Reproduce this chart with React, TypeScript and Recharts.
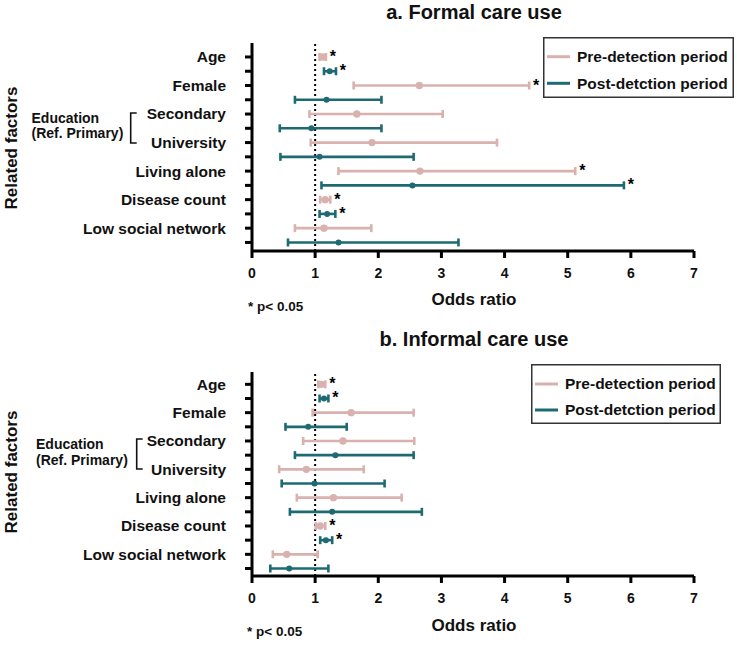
import React from 'react';
import { ComposedChart, Scatter, ErrorBar, XAxis, YAxis, ReferenceLine, Legend } from 'recharts';

const FONT = "'Liberation Sans', Arial, Helvetica, sans-serif";

const factors = ['Age', 'Female', 'Secondary', 'University', 'Living alone', 'Disease count', 'Low social network'];
const rowTicks = [1, 2, 3, 4, 5, 6, 7, 8, 9, 10, 11, 12, 13, 14];
const xTicks = [0, 1, 2, 3, 4, 5, 6, 7];
const seriesNames = ['Pre-detection period', 'Post-detction period'];
const seriesColors = ['#d9b1af', '#1e6a72'];

// a. Formal care use
const formalPreOR = [1.12, 2.65, 1.66, 1.90, 2.66, 1.16, 1.14];
const formalPreLo = [1.07, 1.61, 0.91, 0.93, 1.37, 1.08, 0.68];
const formalPreHi = [1.17, 4.39, 3.02, 3.88, 5.12, 1.24, 1.89];
const formalPreSig = [true, true, false, false, true, true, false];
const formalPostOR = [1.23, 1.18, 0.94, 1.07, 2.54, 1.19, 1.37];
const formalPostLo = [1.14, 0.68, 0.44, 0.45, 1.10, 1.07, 0.57];
const formalPostHi = [1.33, 2.05, 2.05, 2.56, 5.89, 1.32, 3.27];
const formalPostSig = [true, false, false, false, true, true, false];

// b. Informal care use
const informalPreOR = [1.10, 1.57, 1.44, 0.86, 1.29, 1.08, 0.55];
const informalPreLo = [1.05, 0.96, 0.81, 0.43, 0.71, 1.01, 0.33];
const informalPreHi = [1.16, 2.56, 2.57, 1.77, 2.37, 1.16, 1.04];
const informalPreSig = [true, false, false, false, false, true, false];
const informalPostOR = [1.14, 0.89, 1.32, 0.99, 1.27, 1.17, 0.59];
const informalPostLo = [1.07, 0.53, 0.68, 0.47, 0.60, 1.08, 0.29];
const informalPostHi = [1.21, 1.50, 2.56, 2.10, 2.69, 1.27, 1.21];
const informalPostSig = [true, false, false, false, false, true, false];

type Row = { or: number; row: number; err?: [number, number] };

function buildRows(or: number[], lo: number[], hi: number[], offset: number): Row[] {
  return or.map((v, i) => ({ or: v, row: i * 2 + 1 + offset, err: [v - lo[i], hi[i] - v] as [number, number] }));
}
function buildStars(hi: number[], sig: boolean[], offset: number): Row[] {
  const out: Row[] = [];
  hi.forEach((h, i) => {
    if (sig[i]) out.push({ or: h, row: i * 2 + 1 + offset });
  });
  return out;
}

const PreDot = (p: any) => <circle cx={p.cx} cy={p.cy} r={3.7} fill={seriesColors[0]} />;
const PostDot = (p: any) => <circle cx={p.cx} cy={p.cy} r={3} fill={seriesColors[1]} />;
const Star = (p: any) => (
  <text x={p.cx + 7} y={p.cy + 5} textAnchor="middle" fontSize={16} fontWeight={700} fill="#000" fontFamily={FONT}>
    *
  </text>
);

const RowTick = (props: any) => {
  const { x, y, payload } = props;
  const v = payload.value;
  if (v % 2 === 0) return <g />;
  const label = factors[(v - 1) / 2];
  return (
    <text x={x} y={y} dy="0.35em" textAnchor="end" fontSize={15.5} fontWeight={700} fill="#111" fontFamily={FONT}>
      {label}
    </text>
  );
};

const makeLegend = (w: number, h: number, rowYs: number[]) => () => (
  <svg width={w} height={h} style={{ display: 'block' }}>
    <rect x={0.75} y={0.75} width={w - 1.5} height={h - 1.5} fill="#fff" stroke="#333" strokeWidth={1.5} />
    {seriesNames.map((name, i) => (
      <g key={name}>
        <line x1={4} x2={27} y1={rowYs[i]} y2={rowYs[i]} stroke={seriesColors[i]} strokeWidth={3} />
        <text x={34} y={rowYs[i]} dy="0.35em" fontSize={15.5} fontWeight={700} fill="#111" fontFamily={FONT}>
          {name}
        </text>
      </g>
    ))}
  </svg>
);

type PanelProps = {
  pre: Row[];
  post: Row[];
  stars: Row[];
  yDomain: [number, number];
  marginTop: number;
  marginBottom: number;
  legend: { left: number; top: number; w: number; h: number; rows: number[] };
};

function Panel({ pre, post, stars, yDomain, marginTop, marginBottom, legend }: PanelProps) {
  return (
    <ComposedChart width={737} height={323} margin={{ top: marginTop, right: 43, bottom: marginBottom, left: 0 }}>
      <XAxis
        type="number"
        dataKey="or"
        domain={[0, 7]}
        ticks={xTicks}
        interval={0}
        allowDataOverflow
        height={40}
        tickSize={7}
        tickMargin={10}
        axisLine={{ stroke: '#000', strokeWidth: 3 }}
        tickLine={{ stroke: '#000', strokeWidth: 3 }}
        tick={{ fontSize: 14, fontWeight: 700, fill: '#111', fontFamily: FONT }}
      />
      <YAxis
        type="number"
        dataKey="row"
        domain={yDomain}
        reversed
        ticks={rowTicks}
        interval={0}
        allowDataOverflow
        width={252}
        tickSize={7}
        tickMargin={19}
        axisLine={{ stroke: '#000', strokeWidth: 3 }}
        tickLine={{ stroke: '#000', strokeWidth: 3 }}
        tick={<RowTick />}
      />
      <ReferenceLine x={1} stroke="#000" strokeWidth={2} strokeDasharray="2 3" />
      <Scatter data={pre} name={seriesNames[0]} fill={seriesColors[0]} shape={PreDot} isAnimationActive={false}>
        <ErrorBar dataKey="err" direction="x" width={4} stroke={seriesColors[0]} strokeWidth={2.6} isAnimationActive={false} />
      </Scatter>
      <Scatter data={post} name={seriesNames[1]} fill={seriesColors[1]} shape={PostDot} isAnimationActive={false}>
        <ErrorBar dataKey="err" direction="x" width={4} stroke={seriesColors[1]} strokeWidth={2.6} isAnimationActive={false} />
      </Scatter>
      <Scatter data={stars} name="sig" legendType="none" shape={Star} isAnimationActive={false} />
      <Legend
        layout="horizontal"
        verticalAlign="middle"
        align="center"
        content={makeLegend(legend.w, legend.h, legend.rows)}
        wrapperStyle={{ left: legend.left, top: legend.top, width: legend.w, height: legend.h, margin: 0, padding: 0 }}
      />
    </ComposedChart>
  );
}

function SideText({ titleText, titleY, eduX, eduY, bracketX, bracketY, relY, oddsY, noteX, noteY }: any) {
  return (
    <g fontFamily={FONT} fontWeight={700} fill="#111">
      <text x={474} y={titleY} textAnchor="middle" fontSize={20}>{titleText}</text>
      <text transform={`translate(17, ${relY}) rotate(-90)`} textAnchor="middle" fontSize={17}>Related factors</text>
      <text x={eduX} y={eduY} fontSize={14}>Education</text>
      <text x={eduX} y={eduY + 15.5} fontSize={14}>(Ref. Primary)</text>
      <path
        d={`M${bracketX + 6},${bracketY}H${bracketX}V${bracketY + 30}H${bracketX + 6}`}
        fill="none"
        stroke="#111"
        strokeWidth={1.6}
      />
      <text x={474} y={oddsY} textAnchor="middle" fontSize={17}>Odds ratio</text>
      <text x={noteX} y={noteY} fontSize={13.5}>* p&lt; 0.05</text>
    </g>
  );
}

export default function App() {
  const fPre = buildRows(formalPreOR, formalPreLo, formalPreHi, 0);
  const fPost = buildRows(formalPostOR, formalPostLo, formalPostHi, 1);
  const fStars = [...buildStars(formalPreHi, formalPreSig, 0), ...buildStars(formalPostHi, formalPostSig, 1)];
  const iPre = buildRows(informalPreOR, informalPreLo, informalPreHi, 0);
  const iPost = buildRows(informalPostOR, informalPostLo, informalPostHi, 1);
  const iStars = [...buildStars(informalPreHi, informalPreSig, 0), ...buildStars(informalPostHi, informalPostSig, 1)];

  return (
    <div style={{ position: 'absolute', left: 0, top: 0, width: 737, height: 646, background: '#fff', fontFamily: FONT }}>
      <div style={{ position: 'absolute', left: 0, top: 0 }}>
        <Panel
          pre={fPre}
          post={fPost}
          stars={fStars}
          yDomain={[0.02, 14.6]}
          marginTop={43}
          marginBottom={32}
          legend={{ left: 543, top: 37, w: 191, h: 61, rows: [19.7, 46.3] }}
        />
      </div>
      <div style={{ position: 'absolute', left: 0, top: 323 }}>
        <Panel
          pre={iPre}
          post={iPost}
          stars={iStars}
          yDomain={[0.13, 14.53]}
          marginTop={49}
          marginBottom={30}
          legend={{ left: 531, top: 41, w: 190, h: 60, rows: [20, 46] }}
        />
      </div>
      <svg width={737} height={646} style={{ position: 'absolute', left: 0, top: 0, pointerEvents: 'none' }}>
        <SideText
          titleText="a. Formal care use"
          titleY={18.5}
          eduX={31.5}
          eduY={122.5}
          bracketX={130.7}
          bracketY={113}
          relY={148}
          oddsY={305}
          noteX={248}
          noteY={311}
        />
        <SideText
          titleText="b. Informal care use"
          titleY={346}
          eduX={36}
          eduY={449}
          bracketX={136.7}
          bracketY={439}
          relY={472}
          oddsY={631}
          noteX={247}
          noteY={636}
        />
      </svg>
    </div>
  );
}
